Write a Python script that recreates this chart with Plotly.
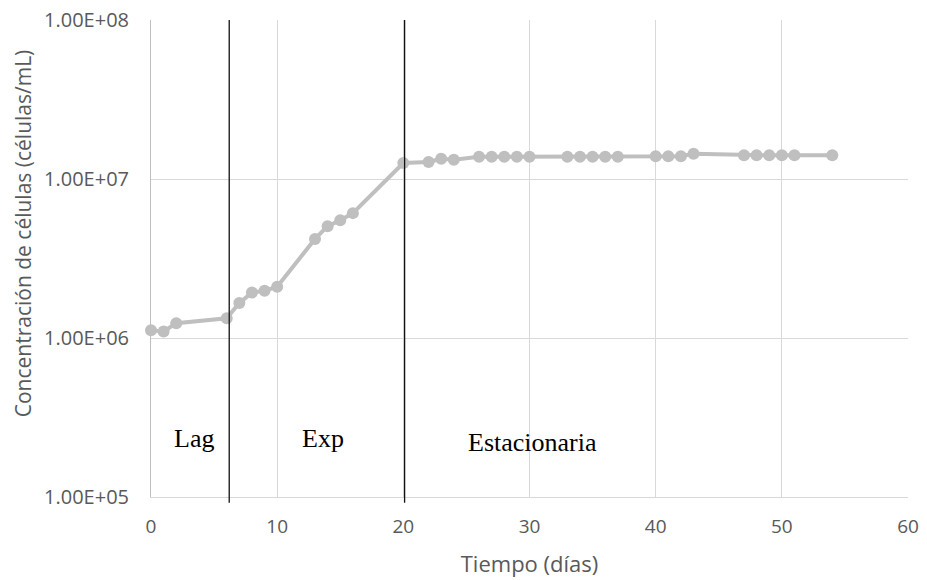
import math
import plotly.graph_objects as go

dias = [0, 1, 2, 6, 7, 8, 9, 10, 13, 14, 15, 16, 20, 22, 23, 24, 26, 27, 28, 29, 30,
        33, 34, 35, 36, 37, 40, 41, 42, 43, 47, 48, 49, 50, 51, 54]
celulas = [1.12e6, 1.10e6, 1.24e6, 1.33e6, 1.66e6, 1.93e6, 1.98e6, 2.10e6,
           4.2e6, 5.05e6, 5.5e6, 6.1e6,
           1.26e7, 1.28e7, 1.34e7, 1.32e7,
           1.38e7, 1.38e7, 1.38e7, 1.38e7, 1.38e7,
           1.38e7, 1.38e7, 1.38e7, 1.38e7, 1.38e7,
           1.39e7, 1.39e7, 1.39e7, 1.44e7,
           1.41e7, 1.41e7, 1.41e7, 1.41e7, 1.41e7, 1.41e7]

fases_x = [6.2, 20.1]
etiquetas = ["Lag", "Exp", "Estacionaria"]
etiquetas_x = [3.4, 13.6, 30.2]
etiquetas_y = [2.35e5, 2.35e5, 2.2e5]

y_ticks = [1e5, 1e6, 1e7, 1e8]
y_ticktext = ["1.00E+05", "1.00E+06", "1.00E+07", "1.00E+08"]
x_ticks = [0, 10, 20, 30, 40, 50, 60]

fig = go.Figure()
fig.add_trace(go.Scatter(
    x=dias, y=celulas, mode="lines+markers",
    line=dict(color="#bfbfbf", width=4),
    marker=dict(color="#bfbfbf", size=12),
    showlegend=False, cliponaxis=False,
))

for xv in fases_x:
    fig.add_shape(type="line", x0=xv, x1=xv, xref="x", yref="paper", y0=-0.012, y1=1,
                  line=dict(color="#111111", width=1.3), layer="above")

for t, xv, yv in zip(etiquetas, etiquetas_x, etiquetas_y):
    fig.add_annotation(x=xv, y=math.log10(yv), xref="x", yref="y", text=t, showarrow=False,
                       xanchor="center", yanchor="middle",
                       font=dict(family="Liberation Serif", size=26, color="#000000"))

ytick_font = dict(family="Open Sans", size=20, color="#595959")
xtick_font = dict(family="Open Sans", size=19, color="#595959")
title_font = dict(family="Open Sans", size=21, color="#595959")

# y-axis title as rotated annotation (positioned like the reference)
fig.add_annotation(x=-0.169, y=0.553, xref="paper", yref="paper",
                   text="Concentración de células (células/mL)", textangle=-90,
                   showarrow=False, xanchor="center", yanchor="middle", font=title_font)

fig.update_layout(
    width=927, height=580,
    margin=dict(l=151, r=19, t=20, b=83, autoexpand=False),
    paper_bgcolor="white", plot_bgcolor="white",
    font=ytick_font,
    xaxis=dict(
        range=[0, 60], tickvals=x_ticks, showgrid=True, gridcolor="#d9d9d9", gridwidth=1,
        zeroline=False, showline=True, linecolor="#d9d9d9", linewidth=1,
        ticks="", tickfont=xtick_font, ticklabelstandoff=12, automargin=False,
        title=dict(text="Tiempo (días)", font=dict(family="Open Sans", size=22, color="#595959"),
                   standoff=18),
    ),
    yaxis=dict(
        type="log", range=[5, 8], tickvals=y_ticks, ticktext=y_ticktext,
        showgrid=True, gridcolor="#d9d9d9", gridwidth=1,
        zeroline=False, showline=True, linecolor="#bfbfbf", linewidth=1,
        ticks="", tickfont=ytick_font, ticklabelstandoff=17, automargin=False,
    ),
)

fig.write_html("out.html")
